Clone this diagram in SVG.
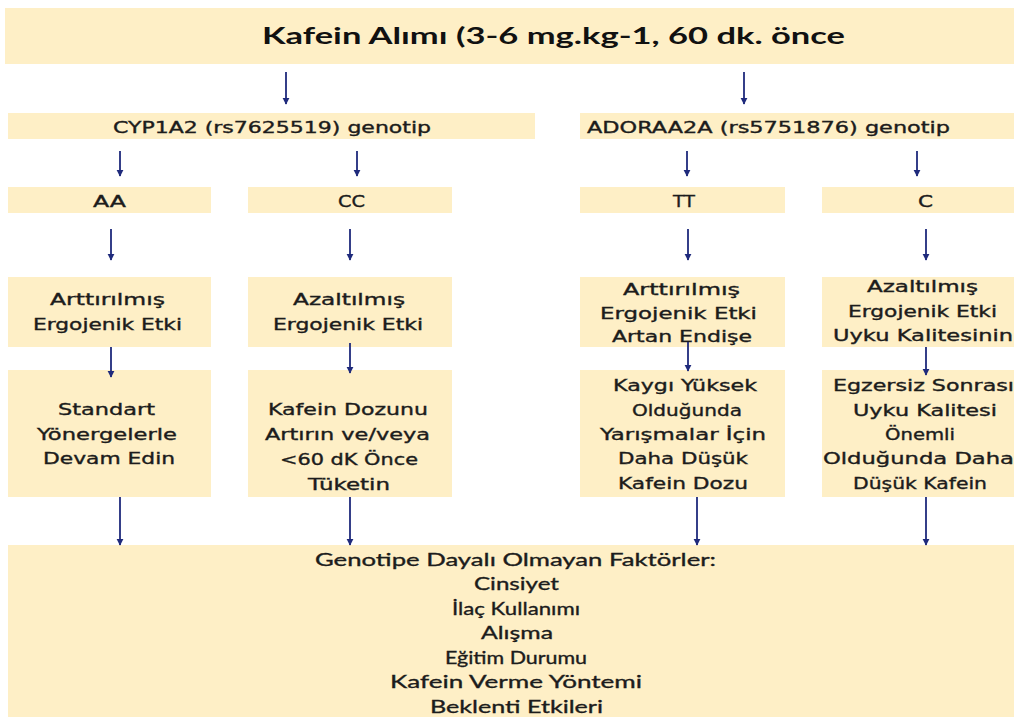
<svg xmlns="http://www.w3.org/2000/svg" width="1014" height="717" viewBox="0 0 1014 717">
<style>
.box{fill:#FEEFC6;}
.t{font-family:"DejaVu Sans",Verdana,sans-serif;font-size:15px;fill:#1c1c1c;stroke:#1c1c1c;stroke-width:0.35;}
.h{font-family:"Lato","Liberation Sans",sans-serif;font-weight:bold;font-size:22px;fill:#111;}
.b{font-family:"Lato","Liberation Sans",sans-serif;font-size:18px;fill:#1c1c1c;stroke:#1c1c1c;stroke-width:0.35;}
.c line{stroke:#1F2A7C;stroke-width:1.8;marker-end:url(#ah);}
</style>
<defs>
<marker id="ah" viewBox="0 0 10 10" refX="9" refY="5" markerWidth="4" markerHeight="4" orient="auto" markerUnits="strokeWidth">
<path d="M0,0 L10,5 L0,10 z" fill="#1F2A7C"/>
</marker>
</defs>
<rect width="1014" height="717" fill="#ffffff"/>

<g id="n-top"><rect class="box" x="5" y="8" width="1009" height="56"/>
<text class="h" x="262" y="44" textLength="583" lengthAdjust="spacingAndGlyphs">Kafein Alımı (3-6 mg.kg-1, 60 dk. önce</text></g>

<g id="n-cyp"><rect class="box" x="8" y="113" width="527" height="26"/>
<text class="t" x="113" y="133" textLength="318" lengthAdjust="spacingAndGlyphs">CYP1A2 (rs7625519) genotip</text></g>
<g id="n-ado"><rect class="box" x="580" y="113" width="434" height="26"/>
<text class="t" x="587" y="133" textLength="363" lengthAdjust="spacingAndGlyphs">ADORAA2A (rs5751876) genotip</text></g>

<g id="n-aa"><rect class="box" x="8" y="187" width="203" height="26"/>
<text class="t" x="93" y="207" textLength="33" lengthAdjust="spacingAndGlyphs">AA</text></g>
<g id="n-cc"><rect class="box" x="248" y="187" width="204" height="26"/>
<text class="t" x="338" y="207" textLength="27" lengthAdjust="spacingAndGlyphs">CC</text></g>
<g id="n-tt"><rect class="box" x="580" y="187" width="205" height="26"/>
<text class="t" x="673" y="207" textLength="22" lengthAdjust="spacingAndGlyphs">TT</text></g>
<g id="n-c"><rect class="box" x="822" y="187" width="192" height="26"/>
<text class="t" x="918" y="207" textLength="15" lengthAdjust="spacingAndGlyphs">C</text></g>

<g id="n-aa-eff"><rect class="box" x="8" y="277" width="203" height="70"/>
<text class="t" x="50" y="305" textLength="115" lengthAdjust="spacingAndGlyphs">Arttırılmış</text>
<text class="t" x="33" y="330" textLength="149" lengthAdjust="spacingAndGlyphs">Ergojenik Etki</text></g>
<g id="n-cc-eff"><rect class="box" x="248" y="277" width="204" height="70"/>
<text class="t" x="293" y="305" textLength="112" lengthAdjust="spacingAndGlyphs">Azaltılmış</text>
<text class="t" x="273" y="330" textLength="150" lengthAdjust="spacingAndGlyphs">Ergojenik Etki</text></g>
<g id="n-tt-eff"><rect class="box" x="580" y="277" width="205" height="70"/>
<text class="t" x="623" y="295" textLength="117" lengthAdjust="spacingAndGlyphs">Arttırılmış</text>
<text class="t" x="600" y="319" textLength="157" lengthAdjust="spacingAndGlyphs">Ergojenik Etki</text>
<text class="t" x="612" y="342" textLength="140" lengthAdjust="spacingAndGlyphs">Artan Endişe</text></g>
<g id="n-c-eff"><rect class="box" x="822" y="277" width="192" height="70"/>
<text class="t" x="867" y="292" textLength="111" lengthAdjust="spacingAndGlyphs">Azaltılmış</text>
<text class="t" x="848" y="317" textLength="149" lengthAdjust="spacingAndGlyphs">Ergojenik Etki</text>
<text class="t" x="833" y="341" textLength="180" lengthAdjust="spacingAndGlyphs">Uyku Kalitesinin</text></g>

<g id="n-aa-rec"><rect class="box" x="8" y="370" width="203" height="127"/>
<text class="t" x="58" y="415" textLength="97" lengthAdjust="spacingAndGlyphs">Standart</text>
<text class="t" x="37" y="440" textLength="140" lengthAdjust="spacingAndGlyphs">Yönergelerle</text>
<text class="t" x="43" y="464" textLength="132" lengthAdjust="spacingAndGlyphs">Devam Edin</text></g>
<g id="n-cc-rec"><rect class="box" x="248" y="370" width="204" height="127"/>
<text class="t" x="268" y="415" textLength="160" lengthAdjust="spacingAndGlyphs">Kafein Dozunu</text>
<text class="t" x="265" y="440" textLength="165" lengthAdjust="spacingAndGlyphs">Artırın ve/veya</text>
<text class="t" x="280" y="465" textLength="138" lengthAdjust="spacingAndGlyphs">&lt;60 dK Önce</text>
<text class="t" x="308" y="490" textLength="82" lengthAdjust="spacingAndGlyphs">Tüketin</text></g>
<g id="n-tt-rec"><rect class="box" x="580" y="370" width="205" height="127"/>
<text class="t" x="613" y="391" textLength="144" lengthAdjust="spacingAndGlyphs">Kaygı Yüksek</text>
<text class="t" x="632" y="416" textLength="110" lengthAdjust="spacingAndGlyphs">Olduğunda</text>
<text class="t" x="600" y="440" textLength="166" lengthAdjust="spacingAndGlyphs">Yarışmalar İçin</text>
<text class="t" x="618" y="464" textLength="130" lengthAdjust="spacingAndGlyphs">Daha Düşük</text>
<text class="t" x="618" y="489" textLength="130" lengthAdjust="spacingAndGlyphs">Kafein Dozu</text></g>
<g id="n-c-rec"><rect class="box" x="822" y="370" width="192" height="127"/>
<text class="t" x="833" y="391" textLength="181" lengthAdjust="spacingAndGlyphs">Egzersiz Sonrası</text>
<text class="t" x="853" y="416" textLength="144" lengthAdjust="spacingAndGlyphs">Uyku Kalitesi</text>
<text class="t" x="885" y="440" textLength="70" lengthAdjust="spacingAndGlyphs">Önemli</text>
<text class="t" x="823" y="464" textLength="191" lengthAdjust="spacingAndGlyphs">Olduğunda Daha</text>
<text class="t" x="853" y="489" textLength="134" lengthAdjust="spacingAndGlyphs">Düşük Kafein</text></g>

<g id="n-bottom"><rect class="box" x="8" y="545" width="1006" height="172"/>
<text class="b" x="315" y="566" textLength="401" lengthAdjust="spacingAndGlyphs">Genotipe Dayalı Olmayan Faktörler:</text>
<text class="b" x="474" y="590" textLength="85" lengthAdjust="spacingAndGlyphs">Cinsiyet</text>
<text class="b" x="452" y="615" textLength="128" lengthAdjust="spacingAndGlyphs">İlaç Kullanımı</text>
<text class="b" x="481" y="639" textLength="72" lengthAdjust="spacingAndGlyphs">Alışma</text>
<text class="b" x="445" y="664" textLength="142" lengthAdjust="spacingAndGlyphs">Eğitim Durumu</text>
<text class="b" x="390" y="688" textLength="252" lengthAdjust="spacingAndGlyphs">Kafein Verme Yöntemi</text>
<text class="b" x="430" y="713" textLength="173" lengthAdjust="spacingAndGlyphs">Beklenti Etkileri</text></g>

<g id="connectors" class="c">
<line x1="286" y1="72" x2="286" y2="104"/>
<line x1="744" y1="72" x2="744" y2="104"/>
<line x1="120" y1="151" x2="120" y2="176"/>
<line x1="357" y1="151" x2="357" y2="176"/>
<line x1="687" y1="151" x2="687" y2="176"/>
<line x1="917" y1="151" x2="917" y2="176"/>
<line x1="111" y1="229" x2="111" y2="260"/>
<line x1="350" y1="229" x2="350" y2="260"/>
<line x1="688" y1="229" x2="688" y2="260"/>
<line x1="926" y1="229" x2="926" y2="260"/>
<line x1="111" y1="347" x2="111" y2="377"/>
<line x1="350" y1="343" x2="350" y2="373"/>
<line x1="688" y1="342" x2="688" y2="371"/>
<line x1="926" y1="347" x2="926" y2="375"/>
<line x1="120" y1="497" x2="120" y2="545"/>
<line x1="350" y1="497" x2="350" y2="545"/>
<line x1="697" y1="497" x2="697" y2="545"/>
<line x1="926" y1="497" x2="926" y2="545"/>
</g>
</svg>
